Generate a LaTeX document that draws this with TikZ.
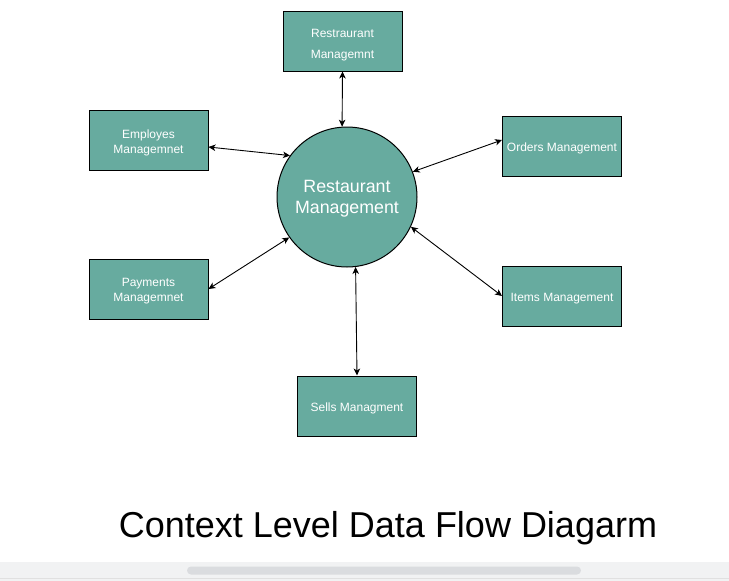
\documentclass[tikz,border=0pt]{standalone}
\usepackage{fontspec}
\setmainfont{Liberation Sans}
\usetikzlibrary{calc,arrows.meta}
\definecolor{teal}{HTML}{67AB9F}
\definecolor{barbg}{HTML}{F1F2F3}
\definecolor{barfg}{HTML}{DADCDF}
\begin{document}
\begin{tikzpicture}[x=1pt,y=-1pt,
  box/.style={draw=black,line width=1pt,fill=teal,minimum width=119pt,minimum height=60pt,
    inner sep=0pt},
  boxlbl/.style={inner sep=0pt,text=white,font=\fontsize{12}{15}\selectfont,align=center,yshift=-2.5pt},
  proc/.style={circle,draw=black,line width=1pt,fill=teal,minimum size=140pt,inner sep=0pt},
  proclbl/.style={inner sep=0pt,text=white,font=\fontsize{17.8}{21}\selectfont,align=center,yshift=-2pt},
  flow/.style={line width=0.9pt,{Stealth[length=7pt,width=6.5pt,inset=2pt]}-{Stealth[length=7pt,width=6.5pt,inset=2pt]}}]
\useasboundingbox (0,0) rectangle (729,581);
\fill[white] (0,0) rectangle (729,581);
% scrollbar strip
\fill[barbg] (0,562) rectangle (729,581);
\fill[barfg,rounded corners=4pt] (187,566.5) rectangle (581,574.5);
\draw[black!12,line width=0.8pt] (0,578) -- (729,578);

\node[proc,label={[proclbl]center:Restaurant\\Management}] (circ) at (347,197) {};
\node[box,label={[boxlbl,font=\fontsize{12}{21}\selectfont,yshift=-1.5pt]center:Restraurant\\Managemnt}] (top) at (342.5,41) {};
\node[box,label={[boxlbl]center:Employes\\Managemnet}] (emp) at (148.5,140) {};
\node[box,label={[boxlbl]center:Payments\\Managemnet}] (pay) at (148.5,289) {};
\node[box,label={[boxlbl]center:Orders Management}] (ord) at (562,146) {};
\node[box,label={[boxlbl]center:Items Management}] (ite) at (562,296) {};
\node[box,label={[boxlbl]center:Sells Managment}] (sel) at (357,406) {};

\draw[flow] (top.south) -- (circ.94);
\draw[flow] ($(emp.east)+(0,7)$) -- (circ.144);
\draw[flow] (pay.east) -- (circ.215);
\draw[flow] ($(ord.west)+(0,-6)$) -- (circ.21);
\draw[flow] (ite.west) -- (circ.-25);
\draw[flow] (sel.north) -- (circ.-83);

\node[anchor=base,inner sep=0pt,font=\fontsize{36}{40}\selectfont] (title) at (388,537) {Context Level Data Flow Diagarm};
\end{tikzpicture}
\end{document}
